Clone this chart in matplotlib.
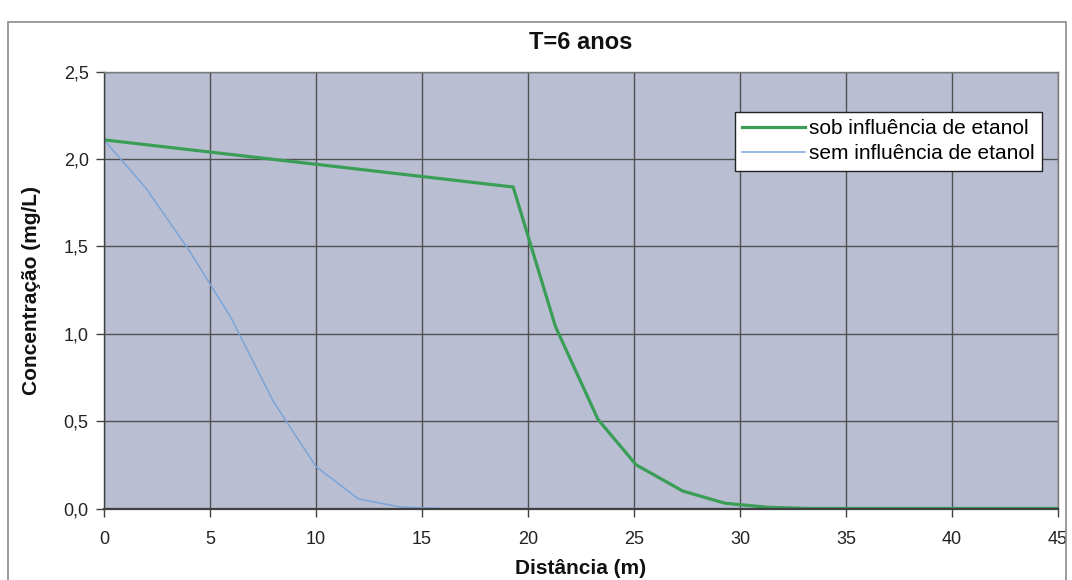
import matplotlib
matplotlib.use("Agg")
import matplotlib.pyplot as plt
from matplotlib.patches import Rectangle

# Data
x_sob = [0, 19.3, 21.3, 23.3, 25.1, 27.3, 29.3, 31.3, 33.3, 45]
y_sob = [2.11, 1.84, 1.04, 0.51, 0.25, 0.10, 0.03, 0.007, 0.0, 0.0]
x_sem = [0, 2, 4, 6, 8, 10, 12, 14, 16, 45]
y_sem = [2.11, 1.83, 1.48, 1.09, 0.61, 0.24, 0.055, 0.008, 0.0, 0.0]
label_sob = "sob influência de etanol"
label_sem = "sem influência de etanol"
x_ticks = [0, 5, 10, 15, 20, 25, 30, 35, 40, 45]
y_ticks = [0.0, 0.5, 1.0, 1.5, 2.0, 2.5]
y_tick_labels = ["0,0", "0,5", "1,0", "1,5", "2,0", "2,5"]
title = "T=6 anos"
xlabel = "Distância (m)"
ylabel = "Concentração (mg/L)"

plt.rcParams['font.family'] = ['Liberation Sans', 'DejaVu Sans']

fig = plt.figure(figsize=(10.72, 5.8), dpi=100)
fig.patch.set_facecolor('white')
# chart area border
fig.patches.append(Rectangle((8/1072, -0.01), (1066-8)/1072, 1 - 22/580 + 0.01,
                             transform=fig.transFigure, fill=False,
                             edgecolor='#8a8a8a', linewidth=1.2))

ax = fig.add_axes([104/1072, 1-508.5/580, (1058-104)/1072, (508.5-71.7)/580])
ax.set_facecolor('#b9bed2')

ax.plot(x_sem, y_sem, color='#7aa5d9', linewidth=1.1, label=label_sem, zorder=2)
ax.plot(x_sob, y_sob, color='#3a9e56', linewidth=2.3, label=label_sob, zorder=2.1)

ax.set_xlim(0, 45)
ax.set_ylim(0, 2.5)
ax.set_xticks(x_ticks)
ax.set_xticklabels([str(t) for t in x_ticks], fontsize=13)
ax.set_yticks(y_ticks)
ax.set_yticklabels(y_tick_labels, fontsize=13)
ax.grid(True, color='#505050', linewidth=1.0)
ax.set_axisbelow(True)
ax.tick_params(axis='both', direction='out', length=6, width=1, color='#404040', colors='#222222')
ax.tick_params(axis='x', pad=10)
ax.tick_params(axis='y', pad=5)
for s in ax.spines.values():
    s.set_color('#7a7a7a')
    s.set_linewidth(1.0)
    s.set_zorder(3)
ax.spines['bottom'].set_color('#404040')
ax.spines['bottom'].set_linewidth(1.6)
ax.spines['left'].set_color('#404040')

ax.set_title(title, fontsize=17, fontweight='bold', pad=16, color='#111111')
ax.set_xlabel(xlabel, fontsize=15, fontweight='bold', labelpad=8, color='#111111')
ax.set_ylabel(ylabel, fontsize=15, fontweight='bold', labelpad=16, color='#111111')

handles, labels = ax.get_legend_handles_labels()
leg = ax.legend([handles[1], handles[0]], [labels[1], labels[0]],
                loc='upper right', bbox_to_anchor=(0.983, 0.908),
                fontsize=15, frameon=True, fancybox=False, framealpha=1,
                edgecolor='#222222', handlelength=3.0, handletextpad=0.2,
                borderpad=0.35, labelspacing=0.3, borderaxespad=0)
leg.get_frame().set_linewidth(1.0)
leg.set_zorder(5)

fig.savefig("out.png", dpi=100)
